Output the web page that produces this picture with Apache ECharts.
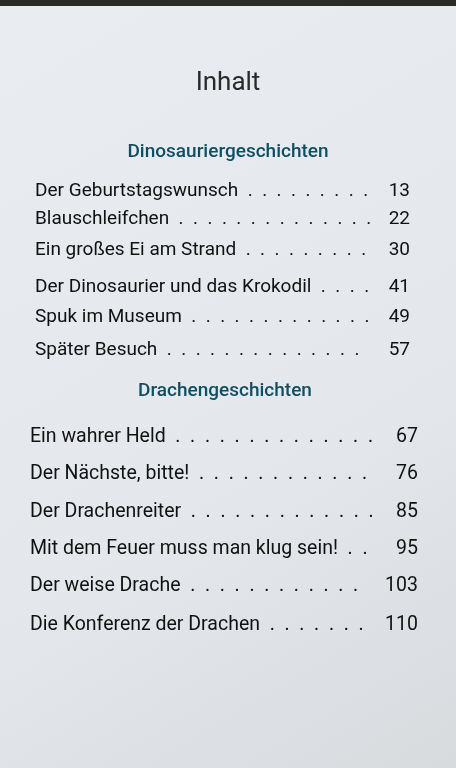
<!DOCTYPE html>
<html><head><meta charset="utf-8">
<script src="https://cdn.jsdelivr.net/npm/echarts@6/dist/echarts.min.js"></script>
<style>html,body{margin:0;padding:0}#c{width:456px;height:768px}</style>
</head><body><div id="c"></div>
<script>
const heading = "Inhalt";
const sections = ["Dinosauriergeschichten", "Drachengeschichten"];
const titles1 = ["Der Geburtstagswunsch","Blauschleifchen","Ein großes Ei am Strand","Der Dinosaurier und das Krokodil","Spuk im Museum","Später Besuch"];
const pages1 = [13,22,30,41,49,57];
const titles2 = ["Ein wahrer Held","Der Nächste, bitte!","Der Drachenreiter","Mit dem Feuer muss man klug sein!","Der weise Drache","Die Konferenz der Drachen"];
const pages2 = [67,76,85,95,103,110];

const FONT = 'Roboto, sans-serif';
const FS1 = 19, FS2 = 19.5;
const y1 = [191,219,250,287,317,350], y2 = [437,474,512,549,586,625];
const ctx = document.createElement('canvas').getContext('2d');
function w(t, size){ ctx.font = size+'px '+FONT; return ctx.measureText(t).width; }
function leader(title, num, x0, x1, size){
  const avail = x1 - x0 - w(title,size) - w(String(num),size) - 16;
  const dw = w('.  ', size);
  const n = Math.max(2, Math.floor(avail/dw));
  return title + '  ' + Array(n+1).join('.  ').trim();
}
function rows(titles, pages, ys, x0, x1, fs){
  return titles.map((t,i)=>({value:[x0, ys[i]], label:{formatter: leader(t,pages[i],x0,x1,fs), fontSize:fs}}));
}
function nums(pages, ys, x1, fs){ return pages.map((p,i)=>({value:[x1, ys[i]], label:{formatter:String(p), fontSize:fs}})); }

const chart = echarts.init(document.getElementById('c'));
const base = {type:'scatter', symbolSize:0, silent:true, itemStyle:{opacity:1}};
chart.setOption({
  backgroundColor:{type:'linear',x:0,y:0,x2:1,y2:1,colorStops:[{offset:0,color:'#e9ecf0'},{offset:0.6,color:'#e4e7eb'},{offset:1,color:'#d8dbde'}]},
  grid:{left:0,right:0,top:0,bottom:0},
  xAxis:{type:'value',min:0,max:456,show:false},
  yAxis:{type:'value',min:0,max:768,inverse:true,show:false},
  graphic:[{type:'rect',shape:{x:0,y:0,width:456,height:6},style:{fill:'#2e2a26'}}],
  series:[
    Object.assign({},base,{data:[{value:[228,83],label:{formatter:heading}}],
      label:{show:true,position:'inside',fontFamily:FONT,fontSize:26,color:'#2a2a2a'}}),
    Object.assign({},base,{data:[{value:[228,152],label:{formatter:sections[0]}},{value:[225,391],label:{formatter:sections[1]}}],
      label:{show:true,position:'inside',fontFamily:FONT,fontSize:19,fontWeight:500,color:'#0f4f63'}}),
    Object.assign({},base,{data:rows(titles1,pages1,y1,35,410,FS1).concat(rows(titles2,pages2,y2,30,418,FS2)),
      label:{show:true,position:'right',distance:0,fontFamily:FONT,color:'#111'}}),
    Object.assign({},base,{data:nums(pages1,y1,410,FS1).concat(nums(pages2,y2,418,FS2)),
      label:{show:true,position:'left',distance:0,fontFamily:FONT,color:'#111'}})
  ]
});
</script></body></html>
